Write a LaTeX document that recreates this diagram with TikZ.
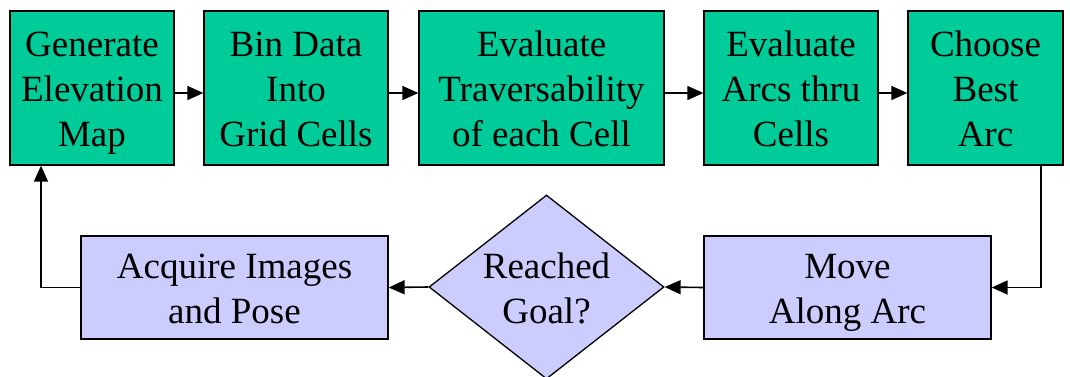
\documentclass[tikz,border=0pt]{standalone}
\usepackage{fontspec}
\setmainfont{Liberation Serif}
\usetikzlibrary{shapes.geometric,arrows.meta}
\definecolor{stepgreen}{RGB}{0,204,153}
\definecolor{looplilac}{RGB}{204,204,255}
% invisible rules giving every label the same first-line height and last-line depth
\newcommand\leadrule{\rule{0pt}{39.5pt}}
\newcommand\tailrule{\rule[-13.5pt]{0pt}{13.5pt}}
\tikzset{
  txt/.style={align=center,font=\rmfamily\fontsize{37}{45}\selectfont,inner sep=0pt},
  greenbox/.style={txt,draw=black,line width=1.3pt,fill=stepgreen,minimum height=154pt},
  lilacbox/.style={txt,draw=black,line width=1.3pt,fill=looplilac,minimum height=103pt},
  tip/.tip={Triangle[length=16pt,width=14pt]},
  link/.style={line width=1.6pt,-tip}
}
\begin{document}
\begin{tikzpicture}[x=1pt,y=-1pt]
\useasboundingbox (0,0) rectangle (1070,376);
% processing pipeline (top row)
\node[greenbox,minimum width=164pt] (gen) at (92,88) {\leadrule Generate\\Elevation\\Map\tailrule};
\node[greenbox,minimum width=184pt] (bin) at (296,88) {\leadrule Bin Data\\Into\\Grid Cells\tailrule};
\node[greenbox,minimum width=245pt] (trav) at (541.5,88) {\leadrule Evaluate\\Traversability\\of each Cell\tailrule};
\node[greenbox,minimum width=174pt] (arcs) at (791,88) {\leadrule Evaluate\\Arcs thru\\Cells\tailrule};
\node[greenbox,minimum width=155pt] (best) at (985.5,88) {\leadrule Choose\\Best\\Arc\tailrule};
% execution loop (bottom row)
\node[lilacbox,minimum width=287pt] (move) at (847.5,287.5) {\leadrule Move\\Along Arc\tailrule};
\node[diamond,draw=black,line width=1.3pt,fill=looplilac,minimum width=235pt,minimum height=184pt,inner sep=0pt] (goal) at (546.5,287) {};
\node[txt] (goaltext) at (546.5,287.5) {\leadrule Reached\\Goal?\tailrule};
\node[lilacbox,minimum width=307pt] (acq) at (234.5,287.5) {\leadrule Acquire Images\\and Pose\tailrule};
% connectors
\draw[link] (gen.east |- 0,93) -- (bin.west |- 0,93);
\draw[link] (bin.east |- 0,93) -- (trav.west |- 0,93);
\draw[link] (trav.east |- 0,93) -- (arcs.west |- 0,93);
\draw[link] (arcs.east |- 0,93) -- (best.west |- 0,93);
\draw[link] (best.south -| 1041,0) |- (move.east);
\draw[link] (move.west) -- (goal.east);
\draw[link] (goal.west) -- (acq.west -| acq.east);
\draw[link] (acq.west) -| (gen.south -| 41,0);
\end{tikzpicture}
\end{document}
